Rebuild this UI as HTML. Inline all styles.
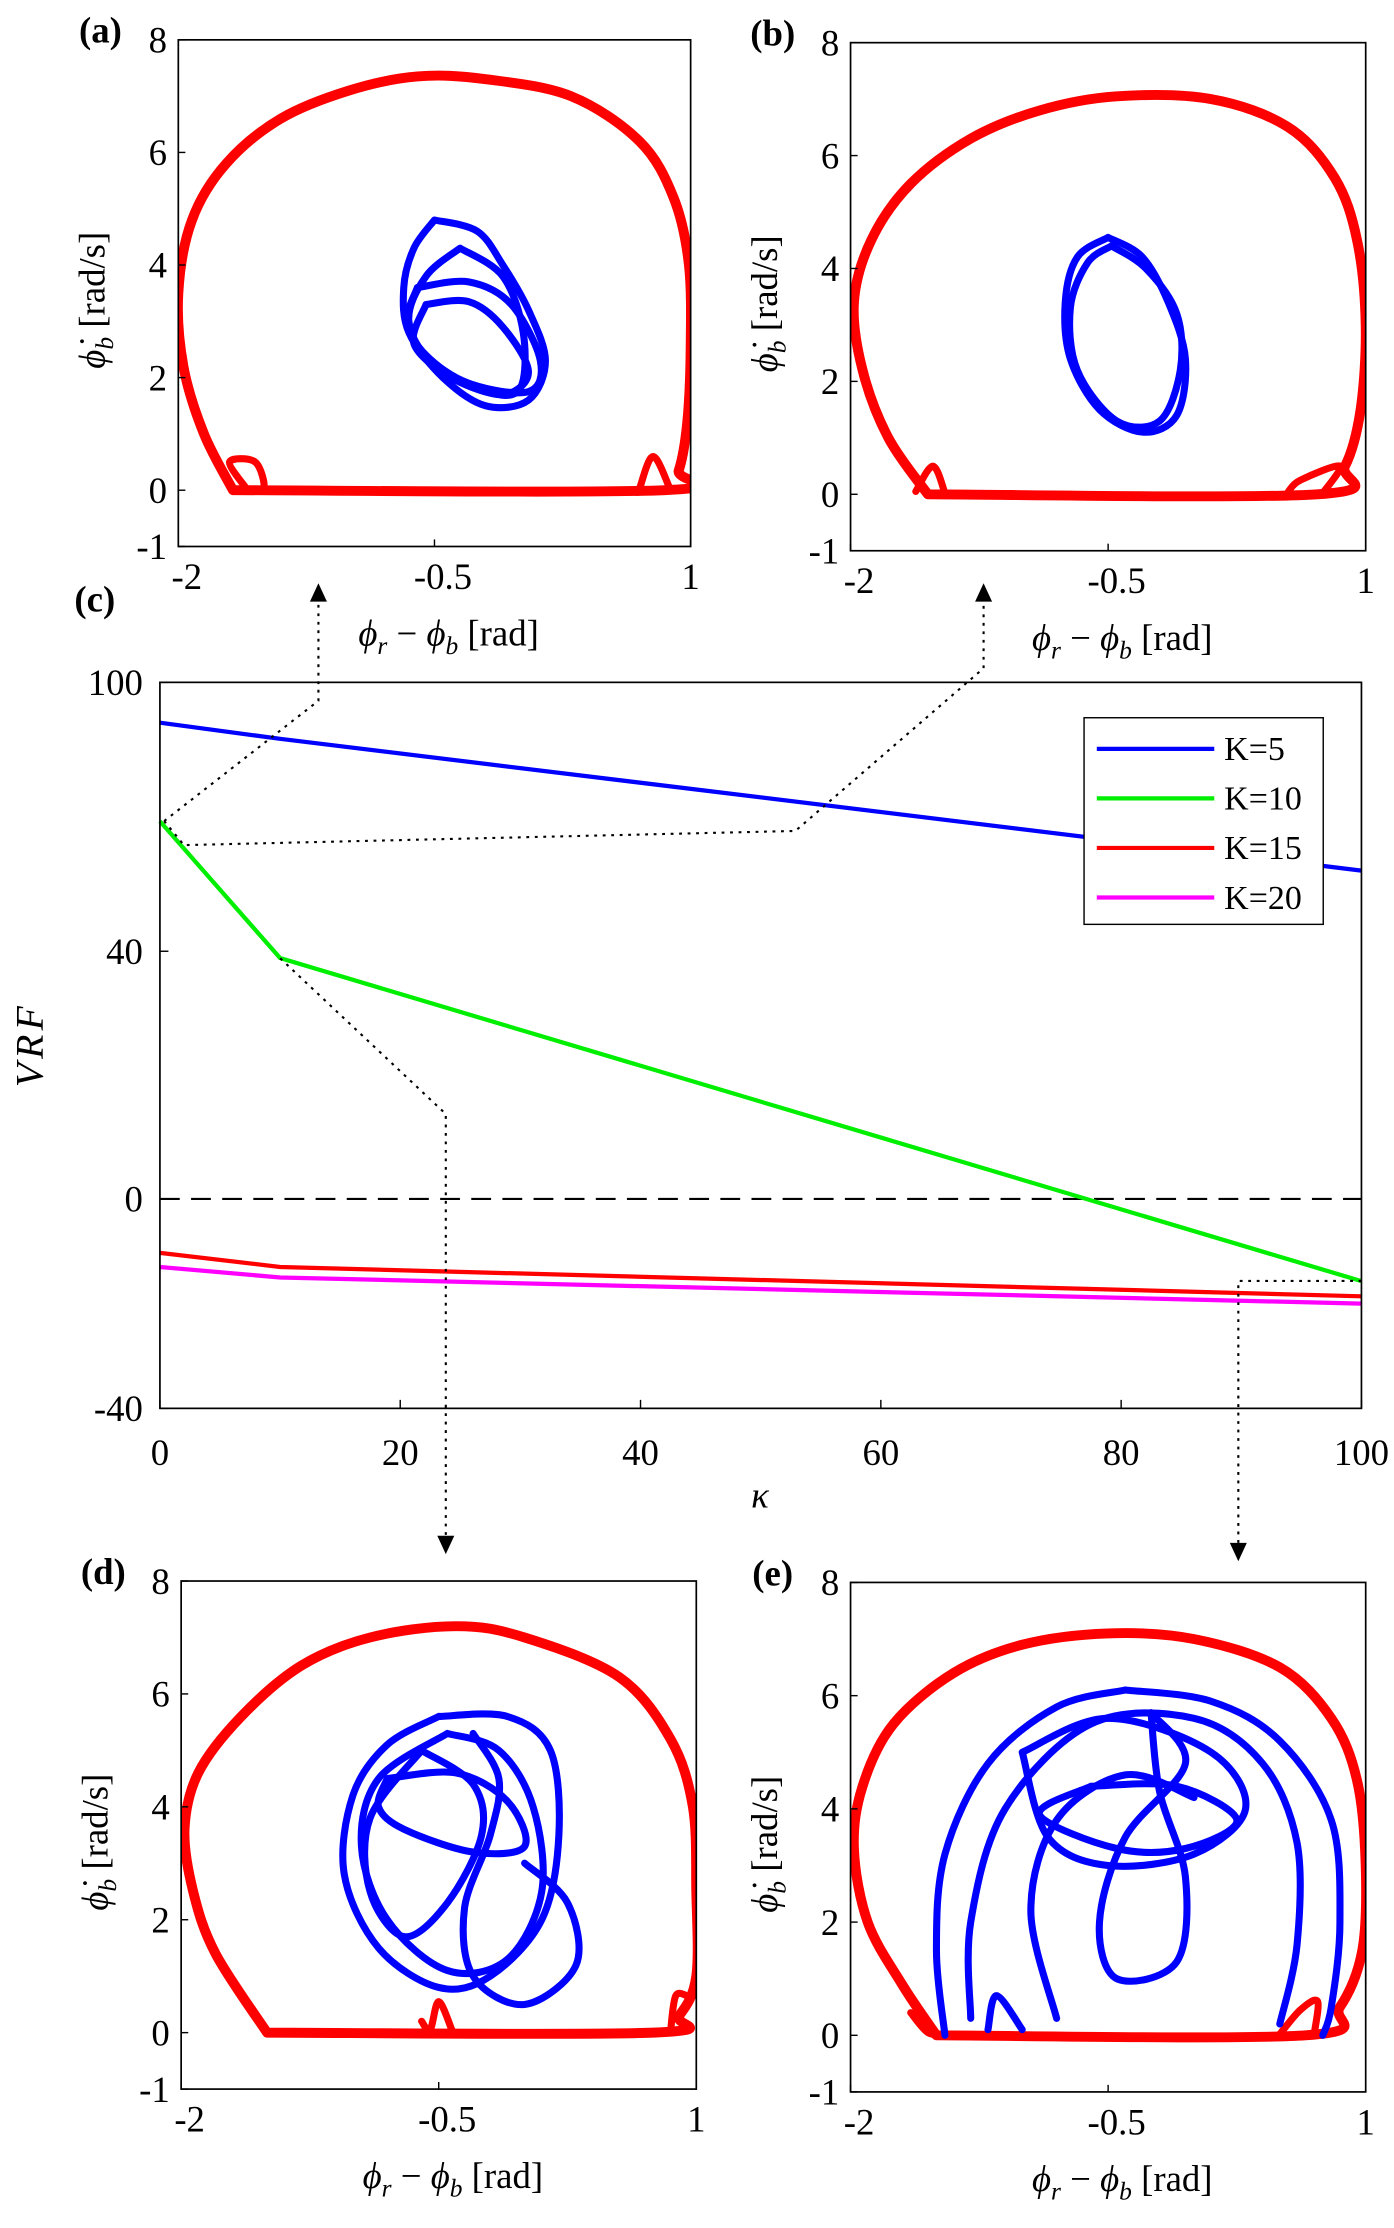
<!DOCTYPE html>
<html><head><meta charset="utf-8"><style>
html,body{margin:0;padding:0;background:#fff}
svg{display:block}
text{font-family:"Liberation Serif",serif;fill:#000}
</style></head><body>
<svg id="fig" width="1394" height="2228" viewBox="0 0 985 1574" xmlns="http://www.w3.org/2000/svg">
<g id="layer"></g>
</svg>
<script>
// ---------- Panel (c) data ----------
const kappaVals = [0, 10, 100];
const vrfK5 = [91, 87.4, 58];
const vrfK10 = [69, 38.9, -15.7];
const vrfK15 = [-10.3, -13, -18.6];
const vrfK20 = [-13, -15, -20];
const seriesNames = ["K=5", "K=10", "K=15", "K=20"];
const xTicksC = [0, 20, 40, 60, 80, 100];
const yTicksC = [-40, 0, 40, 100];

// ---------- Phase portraits data ([x, y] pairs) ----------
const redA = [[-1.68,0],[0.85,0],[0.93,0.35],[0.98,1.2],[1.0,2.5],[0.99,4],[0.9,5.2],[0.7,6.2],[0.3,7],[-0.2,7.3],[-0.6,7.35],[-1.0,7.1],[-1.4,6.6],[-1.72,5.8],[-1.92,4.8],[-2.0,3.5],[-1.97,2.2],[-1.85,1],[-1.68,0]];
const redA2 = [[-1.62,0.02],[-1.5,0.02],[-1.55,0.5],[-1.7,0.5],[-1.6,0.02]];
const redA3 = [[0.7,0.02],[0.78,0.6],[0.88,0.02]];
const blueA1 = [[-0.5,4.8],[-0.25,4.6],[-0.1,4],[0.05,3.2],[0.15,2.3],[0.05,1.6],[-0.2,1.5],[-0.45,2],[-0.65,2.8],[-0.68,3.6],[-0.62,4.3],[-0.5,4.8]];
const blueA2 = [[-0.35,4.3],[-0.1,3.8],[0.02,2.8],[0,1.8],[-0.2,1.75],[-0.5,2.2],[-0.65,3],[-0.55,3.8],[-0.35,4.3]];
const blueA3 = [[-0.6,3.6],[-0.3,3.7],[-0.05,3.3],[0.12,2.3],[0.05,1.75],[-0.3,1.9],[-0.55,2.4],[-0.66,3],[-0.6,3.6]];
const blueA4 = [[-0.55,3.3],[-0.3,3.35],[-0.1,2.9],[0.05,2.1],[-0.1,1.7],[-0.4,2.0],[-0.62,2.6],[-0.55,3.3]];

const redB = [[-1.55,0],[0.72,0],[0.88,0.5],[0.97,1.5],[1.0,3],[0.95,4.5],[0.82,5.6],[0.55,6.5],[0.1,7.0],[-0.45,7.05],[-0.9,6.8],[-1.3,6.3],[-1.65,5.5],[-1.88,4.5],[-1.98,3.4],[-1.93,2.2],[-1.78,1],[-1.55,0]];
const redB2 = [[-1.62,0.05],[-1.52,0.5],[-1.45,0.02]];
const redB3 = [[0.55,0.05],[0.62,0.25],[0.85,0.5],[0.75,0.02]];
const blueB1 = [[-0.5,4.55],[-0.3,4.2],[-0.15,3.4],[-0.05,2.4],[-0.1,1.4],[-0.3,1.1],[-0.55,1.5],[-0.72,2.4],[-0.75,3.4],[-0.68,4.2],[-0.5,4.55]];
const blueB2 = [[-0.48,4.4],[-0.28,4.0],[-0.1,3.2],[-0.08,2.2],[-0.2,1.3],[-0.45,1.3],[-0.68,2.2],[-0.72,3.3],[-0.62,4.1],[-0.48,4.4]];

const redD = [[-1.5,0],[0.75,0],[0.9,0.3],[1.0,1],[1.0,2.5],[0.98,4],[0.85,5.2],[0.55,6.3],[0.0,7.0],[-0.4,7.2],[-0.9,7.0],[-1.3,6.5],[-1.65,5.6],[-1.9,4.6],[-1.98,3.6],[-1.93,2.5],[-1.8,1.4],[-1.5,0]];
const redD2 = [[0.85,0.02],[0.88,0.65],[0.95,0.65]];
const redD3 = [[-0.6,0.2],[-0.55,0.05],[-0.5,0.55],[-0.42,0.02]];
const blueD1 = [[-0.5,5.6],[-0.1,5.6],[0.15,5],[0.2,3.5],[0.1,2],[-0.2,1],[-0.5,0.8],[-0.85,1.5],[-1.05,2.8],[-1.0,4.2],[-0.8,5.1],[-0.5,5.6]];
const blueD2 = [[-0.45,5.3],[-0.15,5.0],[0.05,4],[0.1,2.5],[-0.1,1.3],[-0.45,1.1],[-0.8,2],[-0.95,3.3],[-0.85,4.5],[-0.45,5.3]];
const blueD3 = [[-0.8,4.5],[-0.4,4.6],[-0.1,4.1],[0.0,3.3],[-0.3,3.2],[-0.7,3.6],[-0.85,4.0],[-0.8,4.5]];
const blueD4 = [[-0.3,5.3],[-0.15,4.5],[-0.2,3.5],[-0.35,2.2],[-0.3,1.0],[0.0,0.5],[0.3,1.2],[0.25,2.3],[0.0,3.0]];
const blueD5 = [[-0.6,5.0],[-0.3,4.4],[-0.25,3.5],[-0.45,2.3],[-0.7,1.7],[-0.9,2.5],[-0.9,3.8],[-0.6,5.0]];

const redE = [[-1.5,0],[0.65,0],[0.85,0.5],[0.98,1.5],[1.0,3],[0.95,4.5],[0.8,5.6],[0.5,6.5],[0.0,7.0],[-0.5,7.1],[-1.0,6.9],[-1.4,6.4],[-1.75,5.5],[-1.93,4.4],[-1.98,3.3],[-1.9,2.0],[-1.7,0.9],[-1.5,0]];
const redE2 = [[-1.65,0.4],[-1.55,0.05],[-1.45,0.02]];
const redE3 = [[0.5,0.02],[0.62,0.45],[0.72,0.6],[0.7,0.02]];
const blueE1 = [[-0.4,6.1],[0.1,5.9],[0.5,5.2],[0.8,3.8],[0.85,2],[0.8,0.5],[0.75,0]];
const blueE2 = [[-1.45,0],[-1.5,1.5],[-1.45,3.2],[-1.2,4.8],[-0.8,5.8],[-0.4,6.1]];
const blueE3 = [[-1.3,0.3],[-1.3,2],[-1.1,4],[-0.6,5.5],[0.0,5.6],[0.4,4.8],[0.6,3.4],[0.6,1.6],[0.5,0.2]];
const blueE4 = [[-1.0,5.0],[-0.5,5.6],[0.1,5.0],[0.3,4.0],[0.0,3.2],[-0.5,3.0],[-0.85,3.5],[-1.0,5.0]];
const blueE5 = [[-0.6,4.4],[-0.1,4.4],[0.25,3.8],[-0.05,3.3],[-0.45,3.3],[-0.9,3.9],[-0.6,4.4]];
const blueE6 = [[-0.25,5.7],[-0.05,4.8],[-0.4,3.5],[-0.55,2.0],[-0.45,1.0],[-0.1,1.3],[-0.05,2.8],[-0.2,4.3],[-0.25,5.7]];
const blueE7 = [[-0.8,0.3],[-0.95,2.2],[-0.8,3.8],[-0.4,4.6],[0.0,4.2]];
const blueE8 = [[-1.2,0.1],[-1.15,0.7],[-1.0,0.1]];

const SVGNS = "http://www.w3.org/2000/svg";
const layer = document.getElementById("layer");
function mk(tag, attrs, parent) {
  const e = document.createElementNS(SVGNS, tag);
  for (const k in attrs) e.setAttribute(k, attrs[k]);
  (parent || layer).appendChild(e);
  return e;
}
function txt(s, x, y, size, parent, extra) {
  const t = mk("text", Object.assign({x: x, y: y, "font-size": size, "text-anchor": "middle"}, extra || {}), parent);
  t.textContent = s;
  return t;
}
function smooth(pts) {
  let d = "M" + pts[0][0].toFixed(1) + "," + pts[0][1].toFixed(1);
  for (let i = 0; i < pts.length - 1; i++) {
    const p0 = pts[Math.max(0, i - 1)], p1 = pts[i], p2 = pts[i + 1], p3 = pts[Math.min(pts.length - 1, i + 2)];
    const c1 = [p1[0] + (p2[0] - p0[0]) / 6, p1[1] + (p2[1] - p0[1]) / 6];
    const c2 = [p2[0] - (p3[0] - p1[0]) / 6, p2[1] - (p3[1] - p1[1]) / 6];
    d += "C" + c1[0].toFixed(1) + "," + c1[1].toFixed(1) + " " + c2[0].toFixed(1) + "," + c2[1].toFixed(1) + " " + p2[0].toFixed(1) + "," + p2[1].toFixed(1);
  }
  return d;
}

function phasePanel(cfg) {
  const g = mk("g", {});
  
  
  const sx = v => cfg.x0 + (v - (-2)) / 3 * (cfg.x1 - cfg.x0);
  const sy = v => cfg.y1 - (v - (-1)) / 9 * (cfg.y1 - cfg.y0);
  const clipId = "clip-" + cfg.name;
  const cp = mk("clipPath", {id: clipId}, g);
  mk("rect", {x: cfg.x0, y: cfg.y0, width: cfg.x1 - cfg.x0, height: cfg.y1 - cfg.y0}, cp);
  const curves = mk("g", {"clip-path": "url(#" + clipId + ")"}, g);
  cfg.red.forEach((arr, i) => {
    const p = mk("path", {d: smooth(arr.map(q => [sx(q[0]), sy(q[1])])), fill: "none", stroke: "#ff0000", "stroke-width": i === 0 ? 7 : 5, "stroke-linejoin": "round", "stroke-linecap": "round"}, curves);
    
    
  });
  cfg.blue.forEach(arr => {
    const p = mk("path", {d: smooth(arr.map(q => [sx(q[0]), sy(q[1])])), fill: "none", stroke: "#0000ff", "stroke-width": 5, "stroke-linejoin": "round", "stroke-linecap": "round"}, curves);
    
    
  });
  const box = mk("rect", {x: cfg.x0, y: cfg.y0, width: cfg.x1 - cfg.x0, height: cfg.y1 - cfg.y0, fill: "none", stroke: "#000", "stroke-width": 1.2}, g);
  
  
  [-1, 0, 2, 4, 6, 8].forEach(v => {
    mk("line", {x1: cfg.x0, x2: cfg.x0 + 5, y1: sy(v), y2: sy(v), stroke: "#000"}, g);
    const t = txt(String(v), cfg.x0 - 8, sy(v) + 9, 26, g, {"text-anchor": "end"});
    
    
  });
  [-2, -0.5, 1].forEach(v => {
    mk("line", {x1: sx(v), x2: sx(v), y1: cfg.y1, y2: cfg.y1 - 5, stroke: "#000"}, g);
    const t = txt(String(v), sx(v) + (v < 0 ? 6 : 0), cfg.y1 + 30, 26, g);
    
    
  });
  const lab = txt(cfg.label, cfg.x0 - 55, cfg.y0 + 2, 26, g, {"font-weight": "bold"});
  
  
  const cx = (cfg.x0 + cfg.x1) / 2 + 10;
  const xl = mk("text", {x: cx, y: cfg.y1 + 70, "font-size": 26, "text-anchor": "middle"}, g);
  xl.innerHTML = '<tspan font-style="italic">ϕ</tspan><tspan font-size="18" dy="6" font-style="italic">r</tspan><tspan dy="-6"> − </tspan><tspan font-style="italic">ϕ</tspan><tspan font-size="18" dy="6" font-style="italic">b</tspan><tspan dy="-6"> [rad]</tspan>';
  
  
  const cy = (cfg.y0 + cfg.y1) / 2 + 5;
  const yl = mk("text", {x: 0, y: 0, "font-size": 26, "text-anchor": "middle", transform: "translate(" + (cfg.x0 - 52) + "," + cy + ") rotate(-90)"}, g);
  yl.innerHTML = '<tspan font-style="italic">ϕ̇</tspan><tspan font-size="18" dy="6" font-style="italic">b</tspan><tspan dy="-6"> [rad/s]</tspan>';
  
  
}

phasePanel({name: "panel-a", label: "(a)", x0: 126, x1: 488, y0: 28, y1: 386, red: [redA, redA2, redA3], blue: [blueA1, blueA2, blueA3, blueA4]});
phasePanel({name: "panel-b", label: "(b)", x0: 601, x1: 965, y0: 30, y1: 389, red: [redB, redB2, redB3], blue: [blueB1, blueB2]});
phasePanel({name: "panel-d", label: "(d)", x0: 128, x1: 492, y0: 1117, y1: 1476, red: [redD, redD2, redD3], blue: [blueD1, blueD2, blueD3, blueD4, blueD5]});
phasePanel({name: "panel-e", label: "(e)", x0: 601, x1: 965, y0: 1118, y1: 1478, red: [redE, redE2, redE3], blue: [blueE1, blueE2, blueE3, blueE4, blueE5, blueE6, blueE7, blueE8]});

// ---------- Panel (c) ----------
(function () {
  const g = mk("g", {});
  
  
  const X0 = 113, X1 = 962;
  const yKnotVals = [-40, 0, 40, 100];
  const yKnotPix = [995, 847, 672, 482];
  const sx = v => X0 + v / 100 * (X1 - X0);
  const sy = v => {
    let i = 0;
    while (i < yKnotVals.length - 2 && v > yKnotVals[i + 1]) i++;
    const t = (v - yKnotVals[i]) / (yKnotVals[i + 1] - yKnotVals[i]);
    return yKnotPix[i] + t * (yKnotPix[i + 1] - yKnotPix[i]);
  };
  const zero = mk("line", {x1: X0, x2: X1, y1: sy(0), y2: sy(0), stroke: "#000", "stroke-width": 1.5, "stroke-dasharray": "14,8"}, g);
  
  
  const series = [vrfK5, vrfK10, vrfK15, vrfK20];
  const colors = ["#0000ff", "#00ee00", "#ff0000", "#ff00ff"];
  series.forEach((s, k) => {
    const p = mk("polyline", {points: s.map((v, i) => sx(kappaVals[i]) + "," + sy(v)).join(" "), fill: "none", stroke: colors[k], "stroke-width": 3}, g);
    
    
  });
  const box = mk("rect", {x: X0, y: 482, width: X1 - X0, height: 513, fill: "none", stroke: "#000", "stroke-width": 1.2}, g);
  
  
  xTicksC.forEach(v => {
    mk("line", {x1: sx(v), x2: sx(v), y1: 995, y2: 989, stroke: "#000"}, g);
    const t = txt(String(v), sx(v), 1035, 26, g);
    
    
  });
  yTicksC.forEach(v => {
    mk("line", {x1: X0, x2: X0 + 6, y1: sy(v), y2: sy(v), stroke: "#000"}, g);
    const t = txt(String(v), X0 - 12, sy(v) + 9, 26, g, {"text-anchor": "end"});
    
    
  });
  const lab = txt("(c)", 67, 432, 26, g, {"font-weight": "bold"});
  
  
  const xl = txt("κ", 537, 1065, 26, g, {"font-style": "italic"});
  
  
  const yl = txt("VRF", 0, 0, 28, g, {"font-style": "italic", transform: "translate(30,738) rotate(-90)", "letter-spacing": "3"});
  
  
  const leg = mk("g", {}, g);
  
  
  mk("rect", {x: 766, y: 507, width: 169, height: 146, fill: "#fff", stroke: "#000", "stroke-width": 1}, leg);
  seriesNames.forEach((n, k) => {
    const y = 529 + k * 35;
    const e = mk("g", {}, leg);
    
    
    mk("line", {x1: 775, x2: 858, y1: y, y2: y, stroke: colors[k], "stroke-width": 3}, e);
    txt(n, 865, y + 8, 24, e, {"text-anchor": "start"});
  });
})();

// ---------- Dotted connector arrows ----------
const arrows = [
  {pts: [[116,580],[225,495],[225,425]], dir: "up"},
  {pts: [[116,580],[130,597],[562,587],[695,472],[695,425]], dir: "up"},
  {pts: [[198,677],[315,787],[315,1085]], dir: "down"},
  {pts: [[962,905],[875,905],[875,1090]], dir: "down"}
];
arrows.forEach(a => {
  const g = mk("g", {});
  
  
  mk("polyline", {points: a.pts.map(p => p.join(",")).join(" "), fill: "none", stroke: "#000", "stroke-width": 1.5, "stroke-dasharray": "2,4"}, g);
  const e = a.pts[a.pts.length - 1];
  if (a.dir === "up") mk("polygon", {points: (e[0]-6) + "," + e[1] + " " + (e[0]+6) + "," + e[1] + " " + e[0] + "," + (e[1]-13)}, g);
  else mk("polygon", {points: (e[0]-6) + "," + e[1] + " " + (e[0]+6) + "," + e[1] + " " + e[0] + "," + (e[1]+13)}, g);
});
</script>
</body></html>
